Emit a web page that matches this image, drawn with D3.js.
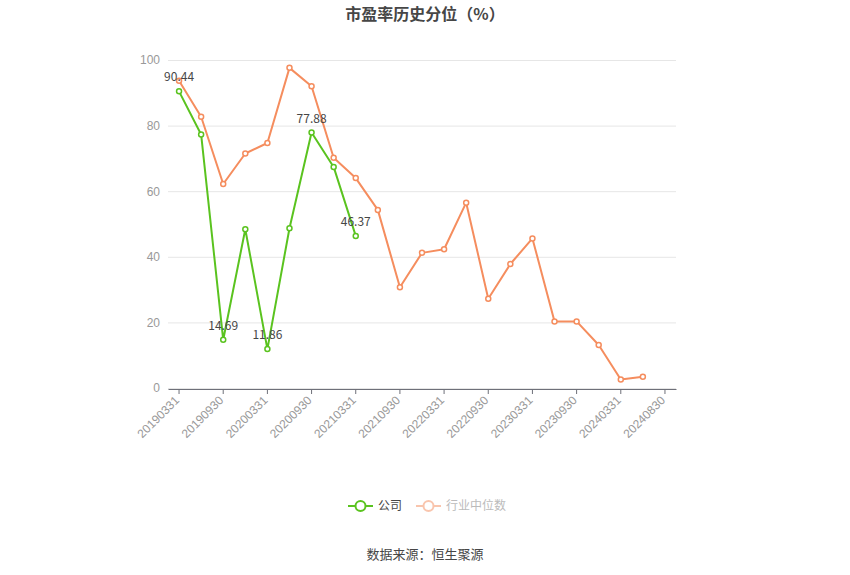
<!DOCTYPE html>
<html>
<head>
<meta charset="utf-8">
<script src="https://cdn.jsdelivr.net/npm/d3@7"></script>
<style>
  body { margin: 0; background: #fff; }
  svg { font-family: "Noto Sans CJK SC", "Noto Sans", sans-serif; }
</style>
</head>
<body>
<div id="chart"></div>
<script>
// data
var categories = ["20190331", "20190630", "20190930", "20191231", "20200331", "20200630",
  "20200930", "20201231", "20210331", "20210630", "20210930", "20211231", "20220331",
  "20220630", "20220930", "20221231", "20230331", "20230630", "20230930", "20231231",
  "20240331", "20240630", "20240830"];
var companyValues = [90.44, 77.3, 14.69, 48.4, 11.86, 48.7, 77.88, 67.4, 46.37];
var industryValues = [93.7, 82.7, 62.2, 71.5, 74.7, 97.6, 92.0, 70.2, 64.0, 54.3, 30.7,
  41.2, 42.3, 56.5, 27.2, 37.8, 45.6, 20.3, 20.3, 13.1, 2.6, 3.4];
var labelledIdx = [0, 2, 4, 6, 8];
var yTicks = [0, 20, 40, 60, 80, 100];

var svgWidth = 850;
var svgHeight = 575;
var margin = { top: 60, right: 174, bottom: 187, left: 168 };
var width = svgWidth - margin.left - margin.right;
var height = svgHeight - margin.top - margin.bottom;

var green = "#5ac31f";
var orange = "#f58d5e";

var svg = d3.select("#chart")
  .append("svg")
  .attr("width", svgWidth)
  .attr("height", svgHeight);

svg.append("text")
  .attr("x", svgWidth / 2)
  .attr("y", 20)
  .attr("text-anchor", "middle")
  .attr("font-size", 16)
  .attr("font-weight", "bold")
  .attr("fill", "#464646")
  .text("市盈率历史分位（%）");

var chartGroup = svg.append("g")
  .attr("transform", `translate(${margin.left}, ${margin.top})`);

var xBand = d3.scaleBand()
  .domain(categories)
  .range([0, width])
  .padding(0);
var xPos = d => xBand(d) + xBand.bandwidth() / 2;

var yLinearScale = d3.scaleLinear()
  .domain([0, 100])
  .range([height, 0]);

// grid + y labels
var leftAxis = d3.axisLeft(yLinearScale)
  .tickValues(yTicks)
  .tickSize(-width)
  .tickPadding(8);
var yAxis = chartGroup.append("g").call(leftAxis);
yAxis.select(".domain").remove();
yAxis.selectAll(".tick line").attr("stroke", "#e6e6e6");
yAxis.selectAll(".tick text")
  .attr("fill", "#999")
  .attr("font-size", 12);

// x axis
var bottomAxis = d3.axisBottom(xBand)
  .tickValues(categories.filter((d, i) => i % 2 === 0))
  .tickSize(5)
  .tickSizeOuter(0);
var xAxis = chartGroup.append("g")
  .attr("transform", `translate(0, ${height + 1})`)
  .call(bottomAxis);
xAxis.select(".domain").attr("stroke", "#6e7079");
xAxis.selectAll(".tick line").attr("stroke", "#6e7079");
xAxis.selectAll(".tick text")
  .attr("fill", "#999")
  .attr("font-size", 12)
  .attr("text-anchor", "end")
  .attr("x", 0)
  .attr("y", 0)
  .attr("dx", 0)
  .attr("dy", 0)
  .attr("transform", "translate(1, 12) rotate(-45)");

function drawSeries(values, color) {
  var line = d3.line()
    .x((d, i) => xPos(categories[i]))
    .y(d => yLinearScale(d));
  chartGroup.append("path")
    .datum(values)
    .attr("fill", "none")
    .attr("stroke", color)
    .attr("stroke-width", 2)
    .attr("stroke-linejoin", "round")
    .attr("d", line);
  chartGroup.append("g")
    .selectAll("circle")
    .data(values)
    .enter()
    .append("circle")
    .attr("cx", (d, i) => xPos(categories[i]))
    .attr("cy", d => yLinearScale(d))
    .attr("r", 2.5)
    .attr("fill", "#fff")
    .attr("stroke", color)
    .attr("stroke-width", 1.5);
}

drawSeries(industryValues, orange);
drawSeries(companyValues, green);

chartGroup.append("g")
  .selectAll("text")
  .data(labelledIdx)
  .enter()
  .append("text")
  .attr("x", i => xPos(categories[i]))
  .attr("y", i => yLinearScale(companyValues[i]) - 10)
  .attr("text-anchor", "middle")
  .attr("font-size", 12)
  .attr("fill", "#464646")
  .text(i => companyValues[i].toFixed(2));

// legend
var legend = svg.append("g").attr("transform", "translate(0, 506)");
var legendItems = [
  { name: "公司", color: green, text: "#464646", x: 348, op: 1 },
  { name: "行业中位数", color: orange, text: "#bbb", x: 416, op: 0.5 }
];
legendItems.forEach(function(item) {
  var g = legend.append("g").attr("opacity", item.op);
  g.append("line")
    .attr("x1", item.x).attr("x2", item.x + 25)
    .attr("stroke", item.color).attr("stroke-width", 2);
  g.append("circle")
    .attr("cx", item.x + 12.5).attr("r", 5)
    .attr("fill", "#fff")
    .attr("stroke", item.color).attr("stroke-width", 2);
  legend.append("text")
    .attr("x", item.x + 30)
    .attr("y", 4)
    .attr("font-size", 12)
    .attr("fill", item.text)
    .text(item.name);
});

svg.append("text")
  .attr("x", svgWidth / 2)
  .attr("y", 559)
  .attr("text-anchor", "middle")
  .attr("font-size", 13)
  .attr("fill", "#464646")
  .text("数据来源：恒生聚源");
</script>
</body>
</html>
